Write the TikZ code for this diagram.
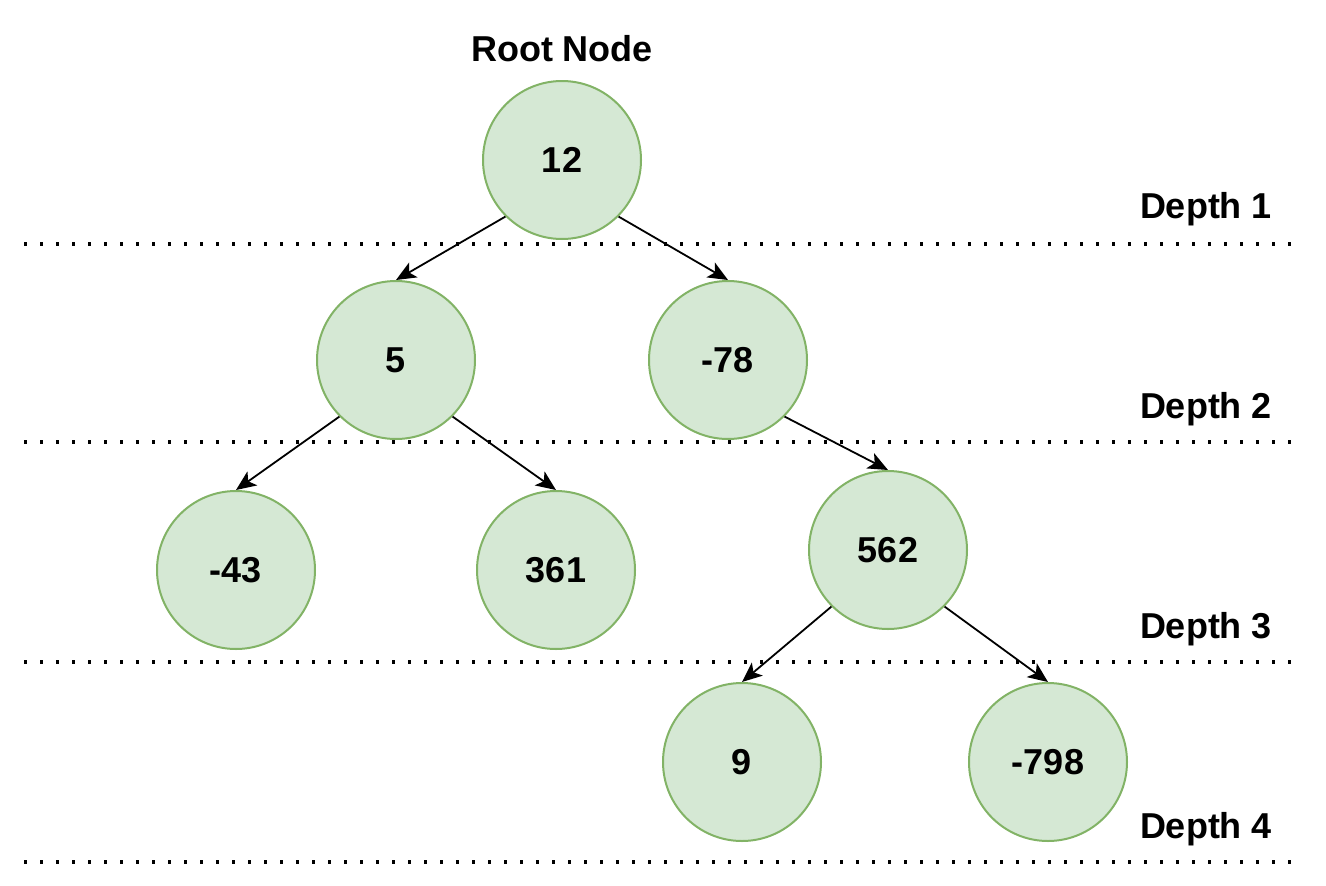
\documentclass[tikz,border=0pt]{standalone}
\usepackage{fontspec}
\setmainfont{Liberation Sans}
\usetikzlibrary{arrows.meta}
\definecolor{nodefill}{HTML}{D5E8D4}
\definecolor{nodeline}{HTML}{82B366}
\begin{document}
\begin{tikzpicture}[x=1pt,y=-1pt,
  treenode/.style={circle,draw=nodeline,fill=nodefill,line width=2pt,minimum size=158pt,inner sep=0pt,
    font=\fontsize{36}{42}\selectfont\bfseries},
  lbl/.style={font=\fontsize{36}{42}\selectfont\bfseries,inner sep=0pt},
  edge/.style={line width=1.8pt,-{Stealth[length=20pt,width=17pt,inset=5pt]}},
  dotline/.style={line width=3.3pt,dash pattern=on 3.3pt off 12.7pt}]
\useasboundingbox (0,0) rectangle (1326,886);
% dotted depth lines
\coordinate (l1a) at (24,244); \coordinate (l1b) at (1292,244);
\coordinate (l2a) at (24,442); \coordinate (l2b) at (1292,442);
\coordinate (l3a) at (24,662); \coordinate (l3b) at (1292,662);
\coordinate (l4a) at (24,862); \coordinate (l4b) at (1292,862);
\draw[dotline] (l1a) -- (l1b);
\draw[dotline] (l2a) -- (l2b);
\draw[dotline] (l3a) -- (l3b);
\draw[dotline] (l4a) -- (l4b);
% labels
\node[lbl] (root) at (562,49) {Root Node};
\node[lbl] (d1) at (1206,209) {Depth 1};
\node[lbl] (d2) at (1206,409) {Depth 2};
\node[lbl] (d3) at (1206,629) {Depth 3};
\node[lbl] (d4) at (1206,829) {Depth 4};
% nodes
\node[treenode] (n12) at (562,160) {12};
\node[treenode] (n5) at (396,360) {5};
\node[treenode] (n78) at (728,360) {-78};
\node[treenode] (n43) at (236,570) {-43};
\node[treenode] (n361) at (556,570) {361};
\node[treenode] (n562) at (888,550) {562};
\node[treenode] (n9) at (742,762) {9};
\node[treenode] (n798) at (1048,762) {-798};
% edges
\draw[edge] (n12.south west) -- (n5.north);
\draw[edge] (n12.south east) -- (n78.north);
\draw[edge] (n5.south west) -- (n43.north);
\draw[edge] (n5.south east) -- (n361.north);
\draw[edge] (n78.south east) -- (n562.north);
\draw[edge] (n562.south west) -- (n9.north);
\draw[edge] (n562.south east) -- (n798.north);
\end{tikzpicture}
\end{document}
